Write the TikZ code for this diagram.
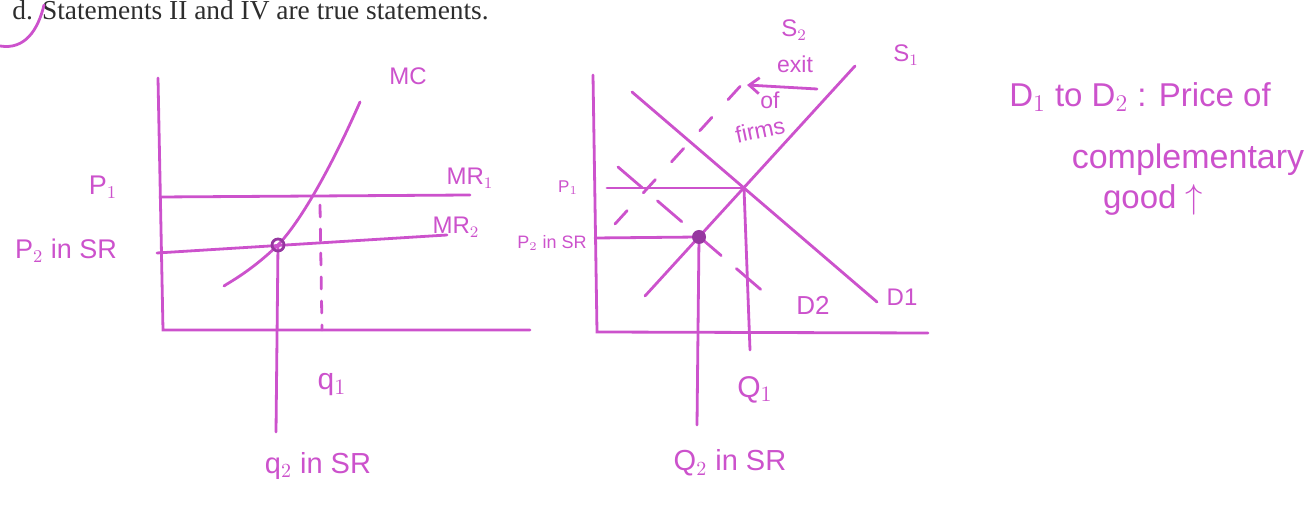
\documentclass[tikz,border=0pt]{standalone}
\usepackage{fontspec}
\setmainfont{Liberation Serif}
\newfontfamily\handfont{Liberation Sans}
\usetikzlibrary{arrows.meta}
\definecolor{pen}{RGB}{204,82,204}
\definecolor{ink}{RGB}{150,55,160}
\definecolor{printgray}{RGB}{45,45,45}
\newcommand{\handsize}[1]{\handfont\fontsize{#1}{#1}\selectfont}

\begin{document}
\begin{tikzpicture}[x=0.5pt,y=-0.5pt,
  curve/.style={pen, line width=1.4pt, line cap=round},
  lbl/.style={text=pen, font=\handsize{12}, inner sep=0pt},
  widelbl/.style={text=pen, font=\handsize{14.5}, inner sep=0pt},
  smalllbl/.style={text=pen, font=\handsize{8.5}, inner sep=0pt},
  exitlbl/.style={text=pen, font=\handsize{11.5}, inner sep=0pt},
  notelbl/.style={text=pen, font=\handsize{16.5}, inner sep=0pt}]
\useasboundingbox (0,0) rectangle (1311,506);

% question line and the circle round it
\node[anchor=base west, text=printgray, font=\fontsize{13.7}{15}\selectfont, inner sep=0pt] (answer) at (12,20) {d. Statements II and IV are true statements.};
\draw[curve] (44,5) .. controls (38,30) and (25,50) .. (0,46);

% left graph: the firm
\coordinate (fo) at (163,330);
\draw[curve] (158,78) -- (fo) -- (530,330);
\draw[curve] (160,197) -- (470,195);
\draw[curve] (157,253) -- (447,235);
\draw[curve] (224,286) .. controls (228,283) and (250,272) .. (278,245)
  .. controls (300,222) and (330,170) .. (360,102);
\coordinate (fdot) at (278,245);
\draw[curve] (fdot) -- (276,432);
\draw[curve, dash pattern=on 6pt off 6pt] (320,205) -- (322,330);
\draw[ink, line width=1.4pt] (fdot) circle (6);
\node[lbl] (mc) at (408,76) {MC};
\node[lbl] (mr1) at (470,178) {MR$_1$};
\node[lbl] (mr2) at (456,227) {MR$_2$};
\node[lbl, font=\handsize{13.5}] (p1) at (103,187) {P$_1$};
\node[lbl, font=\handsize{13.5}] (p2) at (66,251) {P$_2$ in SR};
\node[lbl, font=\handsize{15}] (q1) at (332,385) {q$_1$};
\node[widelbl] (q2) at (318,466) {q$_2$ in SR};

% right graph: the market
\coordinate (mo) at (597,332);
\draw[curve] (593,75) -- (mo) -- (928,333);
\coordinate (e1) at (744,188);
\coordinate (mdot) at (699,237);
\draw[curve] (632,92) -- (877,302);
\draw[curve] (645,296) -- (855,66);
\draw[curve, dash pattern=on 16pt off 10pt] (618,167) -- (773,300);
\draw[curve, dash pattern=on 9pt off 12pt] (615,224) -- (755,70);
\draw[curve] (607,188) -- (e1);
\draw[curve] (595,238) -- (mdot);
\draw[curve] (e1) -- (750,350);
\draw[curve] (mdot) -- (697,425);
\fill[ink] (mdot) circle (7);
\draw[curve, -{Straight Barb[length=5pt,width=8pt]}] (817,89) -- (747,85);
\node[lbl] (s1) at (906,55) {S$_1$};
\node[lbl] (s2) at (794,30) {S$_2$};
\node[exitlbl] (exit) at (795,64) {exit};
\node[exitlbl] (of) at (770,100) {of};
\node[exitlbl, rotate=12] (firms) at (760,130) {firms};
\node[lbl] (d1) at (902,297) {D1};
\node[lbl, font=\handsize{13}] (d2) at (813,305) {D2};
\node[smalllbl] (pp1) at (568,188) {P$_1$};
\node[smalllbl, font=\handsize{9}] (pp2) at (552,243) {P$_2$ in SR};
\node[lbl, font=\handsize{15}] (qq1) at (755,390) {Q$_1$};
\node[widelbl] (qq2) at (730,463) {Q$_2$ in SR};

% note on the shift
\node[notelbl] (note1) at (1140,97) {D$_1$ to D$_2$ : Price of};
\node[notelbl, font=\handsize{17}] (note2) at (1188,160) {complementary};
\node[notelbl] (note3) at (1153,200) {good $\uparrow$};
\end{tikzpicture}
\end{document}
